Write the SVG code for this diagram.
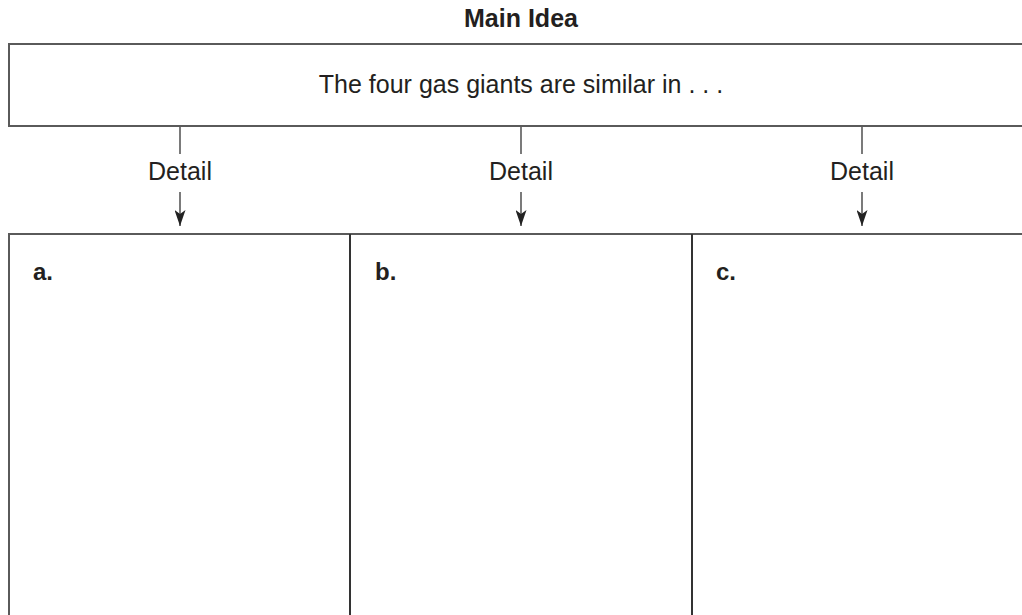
<svg xmlns="http://www.w3.org/2000/svg" width="1022" height="615" viewBox="0 0 1022 615">
<style>
.box{fill:#fff;stroke:#5a5a5a;stroke-width:2}
.div{stroke:#333;stroke-width:2}
.conn{stroke:#222;stroke-width:1.2;fill:none}
.t{font-family:"Liberation Sans",Arial,sans-serif;fill:#231f20}
.lbl{font-size:25px;text-anchor:middle}
.bold{font-weight:bold}
</style>
<defs>
<marker id="ah" viewBox="0 0 16 11" refX="16" refY="5.5" markerWidth="16" markerHeight="11" markerUnits="userSpaceOnUse" orient="auto">
<path d="M0,0 L16,5.5 L0,11 L4,5.5 Z" fill="#222"/>
</marker>
</defs>
<rect width="1022" height="615" fill="#fff"/>
<text class="t bold" x="521" y="27" font-size="25" text-anchor="middle">Main Idea</text>
<g id="main">
<rect class="box" x="9" y="44" width="1030" height="82"/>
<text class="t" x="521" y="93" font-size="25" text-anchor="middle">The four gas giants are similar in . . .</text>
</g>
<g id="connectors">
<line class="conn" x1="180" y1="127" x2="180" y2="154"/>
<line class="conn" x1="180" y1="192" x2="180" y2="226" marker-end="url(#ah)"/>
<line class="conn" x1="521" y1="127" x2="521" y2="154"/>
<line class="conn" x1="521" y1="192" x2="521" y2="226" marker-end="url(#ah)"/>
<line class="conn" x1="862" y1="127" x2="862" y2="154"/>
<line class="conn" x1="862" y1="192" x2="862" y2="226" marker-end="url(#ah)"/>
<text class="t lbl" x="180" y="180">Detail</text>
<text class="t lbl" x="521" y="180">Detail</text>
<text class="t lbl" x="862" y="180">Detail</text>
</g>
<g id="details">
<rect class="box" x="9" y="234" width="1030" height="400"/>
<line class="div" x1="350" y1="234" x2="350" y2="620"/>
<line class="div" x1="692" y1="234" x2="692" y2="620"/>
</g>
<g id="detail-a"><text class="t bold" x="33" y="280" font-size="24">a.</text></g>
<g id="detail-b"><text class="t bold" x="375" y="280" font-size="24">b.</text></g>
<g id="detail-c"><text class="t bold" x="716" y="280" font-size="24">c.</text></g>
</svg>
